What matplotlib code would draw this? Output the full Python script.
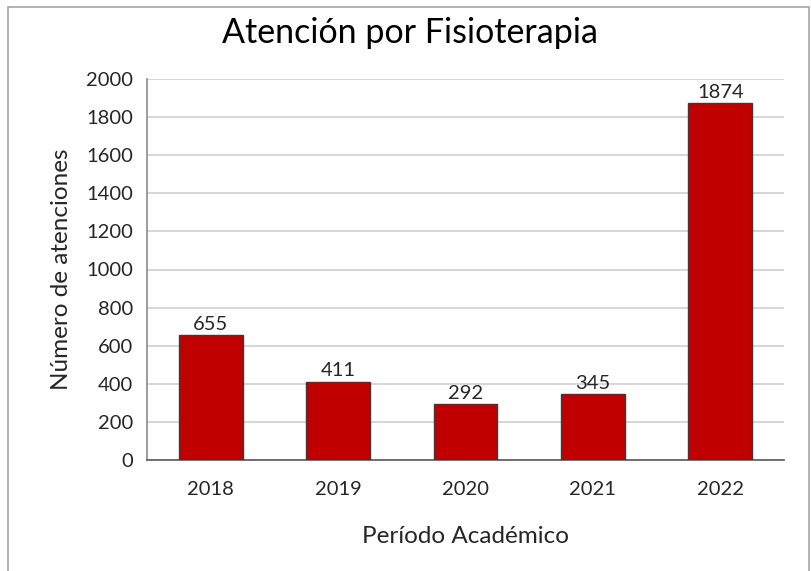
import matplotlib
matplotlib.use("Agg")
import matplotlib.pyplot as plt
from matplotlib.patches import Rectangle

categories = ["2018", "2019", "2020", "2021", "2022"]
values = [655, 411, 292, 345, 1874]
yticks = list(range(0, 2001, 200))

plt.rcParams['font.family'] = ['Lato', 'DejaVu Sans']

W, H = 811, 571
fig = plt.figure(figsize=(W/100, H/100), dpi=100)
fig.patches.append(Rectangle((8/W, -0.01), (809-8)/W, 1 - 7/H + 0.01, transform=fig.transFigure,
                             fill=False, edgecolor='#a6a6a6', linewidth=1.2))

ax = fig.add_axes([147/W, 1-460/H, (784-147)/W, (460-79)/H])
x = list(range(len(categories)))
bars = ax.bar(x, values, width=0.5, color='#c00000', edgecolor='#3a3a3a', linewidth=1.0, zorder=3)
for xi, v in zip(x, values):
    ax.text(xi, v + 12, str(v), ha='center', va='bottom', fontsize=14.5, color='#262626')

ax.set_xlim(-0.5, len(categories) - 0.5)
ax.set_ylim(0, 2000)
ax.set_yticks(yticks)
ax.set_xticks(x)
ax.set_xticklabels(categories)
ax.tick_params(axis='both', length=0, labelsize=14.5, colors='#262626')
ax.tick_params(axis='x', pad=15)
ax.tick_params(axis='y', pad=10)
ax.grid(axis='y', color='#d0d0d0', linewidth=1.2, zorder=0)
for s in ['top', 'right']:
    ax.spines[s].set_visible(False)
ax.spines['left'].set_color('#8c8c8c')
ax.spines['bottom'].set_color('#595959')
ax.spines['left'].set_linewidth(1.2)
ax.spines['bottom'].set_linewidth(1.2)

ax.set_ylabel("Número de atenciones", fontsize=17.5, color='#262626', labelpad=10)
ax.set_xlabel("Período Académico", fontsize=17.5, color='#262626', labelpad=20)
fig.text(410/W, 1-33/H, "Atención por Fisioterapia", ha='center', va='center', fontsize=24.5, color='#000000')

fig.savefig("out.png", dpi=100)
